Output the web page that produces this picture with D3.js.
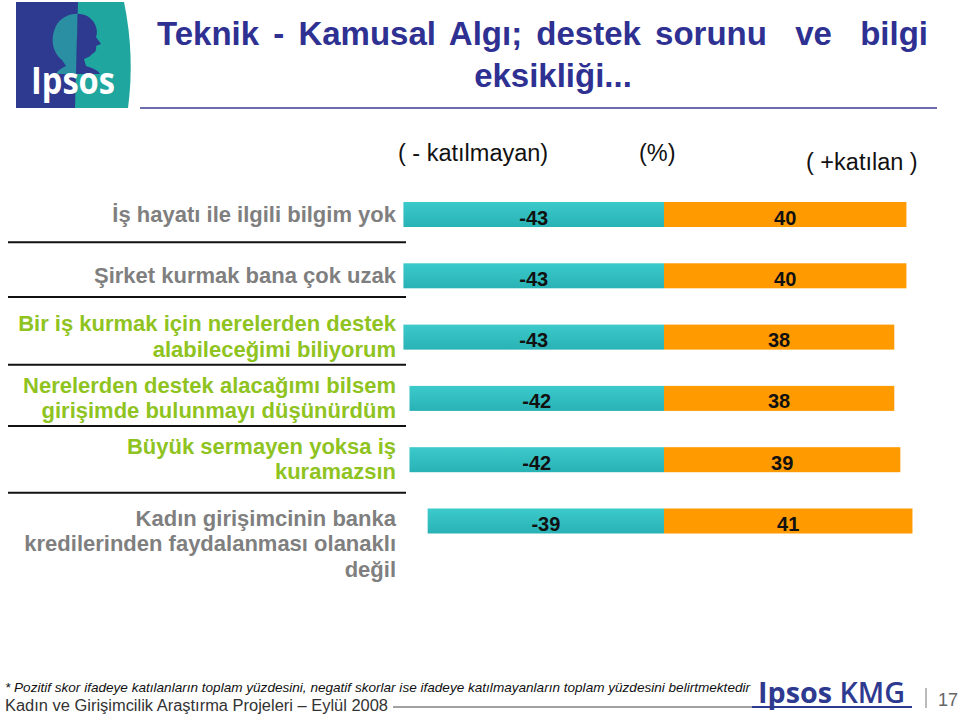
<!DOCTYPE html>
<html>
<head>
<meta charset="utf-8">
<script src="https://cdn.jsdelivr.net/npm/d3@7"></script>
<style>
  html, body { margin: 0; padding: 0; background: #ffffff; }
  svg { display: block; }
  text { font-family: "Liberation Sans", Arial, sans-serif; }
</style>
</head>
<body>
<svg id="chart" width="960" height="714"></svg>
<script>
// ---------- data ----------
const categories = [
  "İş hayatı ile ilgili bilgim yok",
  "Şirket kurmak bana çok uzak",
  "Bir iş kurmak için nerelerden destek\nalabileceğimi biliyorum",
  "Nerelerden destek alacağımı bilsem\ngirişimde bulunmayı düşünürdüm",
  "Büyük sermayen yoksa iş\nkuramazsın",
  "Kadın girişimcinin banka\nkredilerinden faydalanması olanaklı\ndeğil"
];
const disagree = [-43, -43, -43, -42, -42, -39];   // ( - katılmayan)
const agree    = [40, 40, 38, 38, 39, 41];         // ( +katılan )
const highlightedCategories = [categories[2], categories[3], categories[4]];
const titleLines = ["Teknik - Kamusal Algı; destek sorunu  ve  bilgi", "eksikliği..."];
const headerLabels = ["( - katılmayan)", "(%)", "( +katılan )"];
const footnote = "* Pozitif skor ifadeye katılanların toplam yüzdesini, negatif skorlar ise ifadeye katılmayanların toplam yüzdesini belirtmektedir";
const footerSource = "Kadın ve Girişimcilik Araştırma Projeleri – Eylül 2008";
const pageNumber = "17";

// ---------- setup ----------
const svg = d3.select("#chart");
const W = 960, H = 714;
svg.append("rect").attr("width", W).attr("height", H).attr("fill", "#ffffff");

const defs = svg.append("defs");
const tealGrad = defs.append("linearGradient").attr("id", "tealGrad")
  .attr("x1", 0).attr("y1", 0).attr("x2", 0).attr("y2", 1);
tealGrad.append("stop").attr("offset", "0%").attr("stop-color", "#3ccacb");
tealGrad.append("stop").attr("offset", "100%").attr("stop-color", "#29b2b5");

// ---------- logo ----------
const logo = svg.append("g");
logo.append("path").attr("d", "M16,2 H124 Q135,55 128,108 H16 Z").attr("fill", "#1fa79f");
logo.append("path").attr("d", "M16,2 H78 L75,108 H16 Z").attr("fill", "#2e3a8f");
defs.append("clipPath").attr("id", "leftClip").append("path").attr("d", "M16,2 H78 L75,108 H16 Z");
defs.append("clipPath").attr("id", "rightClip").append("path").attr("d", "M78,2 H130 V108 H75 Z");
const headShape = "M62,60 C52,52 50,38 56,26 C62,14 80,10 90,18 C97,24 98,32 96,37 L101,44 L96,46 C97,50 95,53 92,54 C90,57 86,58 84,59 L86,66 C92,68 98,70 100,74 L56,74 C58,70 62,68 66,66 Z";
logo.append("path").attr("d", headShape).attr("fill", "#2a8fa2").attr("clip-path", "url(#leftClip)");
logo.append("path").attr("d", headShape).attr("fill", "#2e3a8f").attr("clip-path", "url(#rightClip)");
logo.append("text").attr("x", 31).attr("y", 94)
  .attr("font-family", "'Open Sans', 'Noto Sans', sans-serif")
  .style("font-family", "'Open Sans', 'Noto Sans', sans-serif")
  .attr("font-weight", "bold").attr("font-size", 38).attr("fill", "#ffffff")
  .attr("textLength", 84).attr("lengthAdjust", "spacingAndGlyphs")
  .text("Ipsos");

// ---------- title ----------
const titleColor = "#2e3192";
const t1 = svg.append("text").attr("x", 157).attr("y", 45)
  .attr("font-size", 33).attr("font-weight", "bold").attr("fill", titleColor)
  .style("white-space", "pre").text(titleLines[0]);
const natural = t1.node().getComputedTextLength();
const spaces = (titleLines[0].match(/ /g) || []).length;
t1.style("word-spacing", ((771 - natural) / spaces) + "px");
svg.append("text").attr("x", 553).attr("y", 87).attr("text-anchor", "middle")
  .attr("font-size", 33).attr("font-weight", "bold").attr("fill", titleColor)
  .text(titleLines[1]);
svg.append("line").attr("x1", 140).attr("x2", 937).attr("y1", 108).attr("y2", 108)
  .attr("stroke", "#6c6cae").attr("stroke-width", 2);

// ---------- scales ----------
const x = d3.scaleLinear().domain([-50, 50]).range([361, 967]);
const y = d3.scaleBand().domain(categories).range([202, 533.5]).paddingInner(0.592).paddingOuter(0);

// header labels
svg.append("text").attr("x", 398).attr("y", 160.5).attr("font-size", 23.5).attr("fill", "#111").text(headerLabels[0]);
svg.append("text").attr("x", 639).attr("y", 160.5).attr("font-size", 23.5).attr("fill", "#111").text(headerLabels[1]);
svg.append("text").attr("x", 806).attr("y", 170).attr("font-size", 23.5).attr("fill", "#111").text(headerLabels[2]);

// ---------- bars ----------
const rows = categories.map((c, i) => ({ cat: c, neg: disagree[i], pos: agree[i] }));
const barG = svg.append("g");
barG.selectAll("rect.neg").data(rows).join("rect").attr("class", "neg")
  .attr("x", d => x(d.neg)).attr("width", d => x(0) - x(d.neg))
  .attr("y", d => y(d.cat)).attr("height", y.bandwidth())
  .attr("fill", "url(#tealGrad)");
barG.selectAll("rect.pos").data(rows).join("rect").attr("class", "pos")
  .attr("x", x(0)).attr("width", d => x(d.pos) - x(0))
  .attr("y", d => y(d.cat)).attr("height", y.bandwidth())
  .attr("fill", "#ff9a00");
barG.selectAll("text.negv").data(rows).join("text").attr("class", "negv")
  .attr("x", d => (x(d.neg) + x(0)) / 2).attr("y", d => y(d.cat) + y.bandwidth() / 2 + 10)
  .attr("text-anchor", "middle").attr("font-size", 20).attr("font-weight", "bold").attr("fill", "#111")
  .text(d => d.neg);
barG.selectAll("text.posv").data(rows).join("text").attr("class", "posv")
  .attr("x", d => (x(d.pos) + x(0)) / 2).attr("y", d => y(d.cat) + y.bandwidth() / 2 + 10)
  .attr("text-anchor", "middle").attr("font-size", 20).attr("font-weight", "bold").attr("fill", "#111")
  .text(d => d.pos);

// ---------- category labels & dividers ----------
const lh = 25.5;
const labelInfo = rows.map(d => {
  const lines = d.cat.split("\n");
  const c = y(d.cat) + y.bandwidth() / 2;
  const first = lines.length > 2 ? c + 5 : c + 7 - (lines.length - 1) * lh / 2;
  return { d, lines, first, last: first + (lines.length - 1) * lh };
});
const labG = svg.append("g");
labelInfo.forEach((info, i) => {
  const hl = highlightedCategories.includes(info.d.cat);
  const t = labG.append("text").attr("text-anchor", "end")
    .attr("font-size", 22).attr("font-weight", "bold")
    .attr("fill", hl ? "#8fc31f" : "#7f7f7f");
  info.lines.forEach((ln, k) => {
    t.append("tspan").attr("x", 396).attr("y", info.first + k * lh).text(ln);
  });
  if (i < labelInfo.length - 1) {
    const yy = (info.last + labelInfo[i + 1].first) / 2 - 10;
    labG.append("line").attr("x1", 8).attr("x2", 406).attr("y1", yy).attr("y2", yy)
      .attr("stroke", "#111").attr("stroke-width", 2);
  }
});

// ---------- footer ----------
svg.append("text").attr("x", 5).attr("y", 692).attr("font-size", 13).attr("font-style", "italic")
  .attr("fill", "#111").attr("textLength", 745).attr("lengthAdjust", "spacingAndGlyphs").text(footnote);
svg.append("text").attr("x", 5).attr("y", 711).attr("font-size", 16)
  .attr("fill", "#333").attr("textLength", 383).attr("lengthAdjust", "spacingAndGlyphs").text(footerSource);
svg.append("line").attr("x1", 393).attr("x2", 752).attr("y1", 707).attr("y2", 707)
  .attr("stroke", "#444").attr("stroke-width", 1);
svg.append("text").attr("x", 758).attr("y", 703)
  .style("font-family", "'Open Sans', 'Noto Sans', sans-serif")
  .attr("font-size", 29).attr("fill", "#2e3a8f").attr("textLength", 147).attr("lengthAdjust", "spacingAndGlyphs")
  .append("tspan").attr("font-weight", "bold").text("Ipsos ")
  .select(function () { return this.parentNode; })
  .append("tspan").attr("font-weight", "600").text("KMG");
svg.append("line").attr("x1", 752).attr("x2", 912).attr("y1", 707).attr("y2", 707)
  .attr("stroke", "#2e3a8f").attr("stroke-width", 2);
svg.append("line").attr("x1", 926).attr("x2", 926).attr("y1", 688).attr("y2", 708)
  .attr("stroke", "#777").attr("stroke-width", 1);
svg.append("text").attr("x", 958).attr("y", 706).attr("text-anchor", "end").attr("font-size", 18)
  .attr("fill", "#666").text(pageNumber);
</script>
</body>
</html>
